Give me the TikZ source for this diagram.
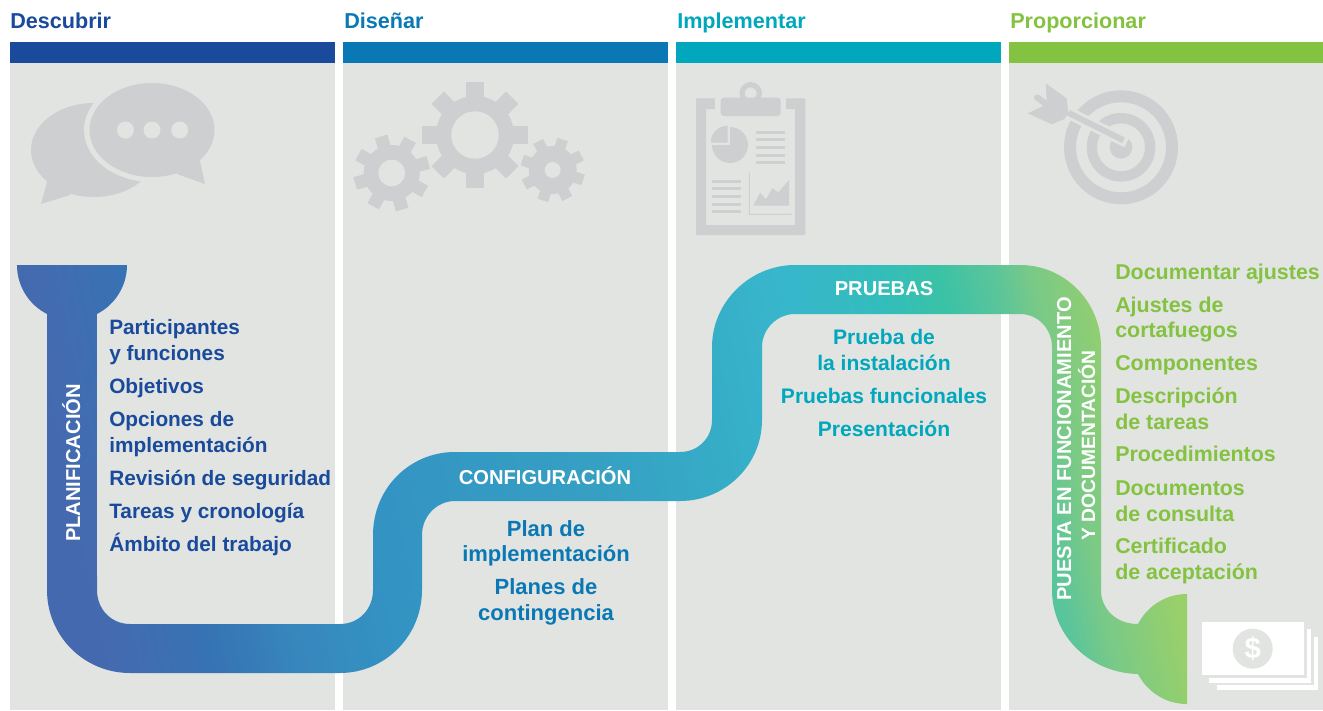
\documentclass[tikz,border=0pt]{standalone}
\usepackage{fontspec}
\setmainfont{Liberation Sans}
\definecolor{panel}{HTML}{E1E4E1}
\definecolor{icon}{HTML}{CDCFD1}
\definecolor{cA}{HTML}{1A4A9C}
\definecolor{cB}{HTML}{0A78B5}
\definecolor{cC}{HTML}{00A7BD}
\definecolor{cD}{HTML}{84C241}
\definecolor{ra}{HTML}{4569AF}
\definecolor{rb}{HTML}{426CB1}
\definecolor{rc}{HTML}{3673B4}
\definecolor{rd}{HTML}{3787BD}
\definecolor{re}{HTML}{3393C3}
\definecolor{rf}{HTML}{36A0C3}
\definecolor{rg}{HTML}{36AEC8}
\definecolor{rh}{HTML}{38B6CC}
\definecolor{ri}{HTML}{33BDBB}
\definecolor{rj}{HTML}{3AC2A6}
\definecolor{rk}{HTML}{5DC599}
\definecolor{rl}{HTML}{78C988}
\definecolor{rm}{HTML}{9AD069}
\pgfdeclarehorizontalshading{ribbon}{100bp}{
 color(0bp)=(ra);
 color(26.9bp)=(ra);
 color(28.3bp)=(rb);
 color(31.7bp)=(rc);
 color(35.7bp)=(rd);
 color(40bp)=(re);
 color(50.4bp)=(rf);
 color(56.5bp)=(rg);
 color(60bp)=(rh);
 color(64.4bp)=(ri);
 color(67bp)=(rj);
 color(69.6bp)=(rk);
 color(71bp)=(rl);
 color(74.5bp)=(rm);
 color(100bp)=(rm)}
\newcommand{\geargrey}[7]{% x y outer body hole toothwidth rot
 \begin{scope}[shift={(#1,#2)}]
  \foreach \a in {0,45,...,315}
   \fill[icon,rotate=\a+#7] (-#6/2,0) rectangle (#6/2,-#3);
  \fill[icon] (0,0) circle[radius=#4];
  \fill[panel] (0,0) circle[radius=#5];
 \end{scope}}
\tikzset{
 head/.style={anchor=base west,font=\fontsize{16.2}{18}\selectfont\bfseries,inner sep=0pt},
 item/.style={inner sep=0pt,yshift=-0.4pt},
 lft/.style={item,anchor=base west},
 ctr/.style={item,anchor=base},
 fA/.style={font=\fontsize{15.6}{18}\selectfont\bfseries,cA},
 fB/.style={font=\fontsize{16.5}{18}\selectfont\bfseries,cB},
 fC/.style={font=\fontsize{15.8}{18}\selectfont\bfseries,cC},
 fD/.style={font=\fontsize{16.05}{18}\selectfont\bfseries,cD},
 band/.style={font=\fontsize{15.1}{16}\selectfont\bfseries,inner sep=0pt,white,anchor=base},
 vband/.style={band,rotate=90},
}
\begin{document}
\begin{tikzpicture}[x=0.75pt,y=-0.75pt]
\useasboundingbox (0,0) rectangle (1323,710);
\fill[white] (0,0) rectangle (1323,710);
% panels and bars
\fill[panel] (10,63) rectangle (335,710);
\fill[panel] (343,63) rectangle (668,710);
\fill[panel] (676,63) rectangle (1001,710);
\fill[panel] (1009,63) rectangle (1323,710);
\fill[cA] (10,42) rectangle (335,63);
\fill[cB] (343,42) rectangle (668,63);
\fill[cC] (676,42) rectangle (1001,63);
\fill[cD] (1009,42) rectangle (1323,63);
% headings
\node[head,cA] (h1) at (10,29) {Descubrir};
\node[head,cB] (h2) at (344,29) {Diseñar};
\node[head,cC] (h3) at (677,29) {Implementar};
\node[head,cD] (h4) at (1010,29) {Proporcionar};
% speech bubbles
\fill[icon] (94,150) ellipse[x radius=63,y radius=47];
\fill[icon] (47,182) -- (41,204) -- (70,195) -- (60,170) -- cycle;
\fill[panel] (152,130) ellipse[x radius=68,y radius=52];
\fill[icon] (152,130) ellipse[x radius=62.5,y radius=47];
\fill[icon] (200,161) -- (205,184) -- (177,174) -- (190,150) -- cycle;
\foreach \x in {125.5,152,179.7} \fill[panel] (\x,130) circle[radius=8.5];
% gears
\geargrey{475}{135}{52.7}{39}{23.7}{17.5}{0}
\geargrey{391.7}{173}{38}{28}{13.3}{13}{16}
\geargrey{552.7}{170}{32}{24}{8}{11}{27}
% clipboard
\fill[icon,even odd rule] (696,98.3) rectangle (805.3,235) (706,109) rectangle (795,225);
\fill[panel] (715.3,95) rectangle (786,112);
\fill[icon,even odd rule] (750.7,93.3) circle[radius=11.3] (750.7,93.3) circle[radius=6];
\fill[icon,rounded corners=2.5pt] (720.7,97.7) rectangle (780.7,116);
\fill[icon] (730,145) -- (730,127) arc[start angle=-90,end angle=180,radius=18] -- cycle;
\fill[panel] (712,126) rectangle (730,145);
\fill[icon] (727.7,142.7) -- (710.7,142.7) arc[start angle=180,end angle=270,radius=17] -- cycle;
\foreach \y in {132.3,139.7,147.3,155.3,162.7} \fill[icon] (756,\y-1.35) rectangle (785,\y+1.35);
\foreach \y in {181.3,188.3,196.3,204.7,211.3} \fill[icon] (712,\y-1.35) rectangle (741,\y+1.35);
\fill[icon] (748.8,172.7) rectangle (749.8,214.8) (748.8,213.8) rectangle (791.7,214.8);
\fill[icon] (753.3,205.7) -- (760,192.7) -- (766,199.3) -- (772.3,188.3) -- (778.3,192.3) -- (789,180) -- (789,205.7) -- cycle;
% target
\fill[icon,even odd rule] (1121,147.3) circle[radius=57] (1121,147.3) circle[radius=45];
\fill[icon,even odd rule] (1121,147.3) circle[radius=34.3] (1121,147.3) circle[radius=24];
\fill[icon] (1121,147.3) circle[radius=11.3];
\draw[panel,line width=9pt] (1068.3,112.7) -- (1127,142);
\draw[icon,line width=4.5pt] (1068.3,112.7) -- (1123.5,140.3);
\fill[icon] (1045.7,83.3) -- (1066.7,98.3) -- (1068.3,113.3) -- (1064.3,119) -- (1051.7,124.3) -- (1027.7,113.3) -- (1043.3,106) -- (1035.5,100) -- (1039,95) -- (1046.7,100.7) -- cycle;
\fill[icon] (1037.2,97.8) circle[radius=3.2];
% money
\fill[white] (1216.7,636.7) rectangle (1318.3,690);
\fill[panel] (1206.6,626.6) rectangle (1313.7,685.4);
\fill[white] (1209.3,629.3) rectangle (1311,682.7);
\fill[panel] (1199.3,619.3) rectangle (1306.7,678);
\fill[white] (1202,622) rectangle (1304,675.3);
\fill[panel] (1252.7,648.7) circle[radius=20];
\node[font=\fontsize{22}{24}\selectfont\bfseries,white,inner sep=0pt] (dollar) at (1252.7,648.7) {\$};
% ribbon: tilted gradient inside the ribbon outline
\begin{scope}
\clip
 (17,265) -- (127,265) arc[start angle=0,end angle=63,radius=55]
 -- (97,590) .. controls (97,609) and (111,624) .. (130,624)
 -- (340,624) .. controls (359,624) and (373,609) .. (373,590)
 -- (373,535) .. controls (373,489) and (409,452) .. (455,452)
 -- (680,452) .. controls (698,452) and (712,438) .. (712,420)
 -- (712,347) .. controls (712,302) and (750,265) .. (795,265)
 -- (1020,265) .. controls (1065,265) and (1101,302) .. (1101,347)
 -- (1101,590) .. controls (1101,609) and (1116,624) .. (1138,624)
 arc[start angle=207,end angle=270,radius=55]
 -- (1187,704) arc[start angle=90,end angle=153,radius=55]
 .. controls (1090,673) and (1052,636) .. (1052,590)
 -- (1052,347) .. controls (1052,329) and (1038,314) .. (1020,314)
 -- (795,314) .. controls (777,314) and (762,329) .. (762,347)
 -- (762,420) .. controls (762,465) and (725,501) .. (680,501)
 -- (455,501) .. controls (437,501) and (422,516) .. (422,535)
 -- (422,590) .. controls (422,636) and (385,673) .. (340,673)
 -- (130,673) .. controls (84,673) and (47,636) .. (47,590)
 -- (47,314) arc[start angle=117,end angle=180,radius=55] -- cycle;
\begin{scope}[transform canvas={rotate around={12:(602,480)}}]
\path[shading=ribbon] (32,-20) rectangle (1152,980);
\end{scope}
\end{scope}
% band labels
\node[vband] (b1) at (80,463) {PLANIFICACIÓN};
\node[band] (b2) at (545,484) {CONFIGURACIÓN};
\node[band] (b3) at (884,295) {PRUEBAS};
\node[vband] (b4a) at (1071,449) {PUESTA EN FUNCIONAMIENTO};
\node[vband,font=\fontsize{14.45}{16}\selectfont\bfseries] (b4b) at (1095,445.5) {Y DOCUMENTACIÓN};
% column 1
\node[lft,fA] (a1) at (109,334) {Participantes};
\node[lft,fA] (a2) at (109,360) {y funciones};
\node[lft,fA] (a3) at (109,393) {Objetivos};
\node[lft,fA] (a4) at (109,426) {Opciones de};
\node[lft,fA] (a5) at (109,452) {implementación};
\node[lft,fA] (a6) at (109,485) {Revisión de seguridad};
\node[lft,fA] (a7) at (109,518) {Tareas y cronología};
\node[lft,fA] (a8) at (109,551) {Ámbito del trabajo};
% column 2
\node[ctr,fB] (c1) at (546,535.5) {Plan de};
\node[ctr,fB] (c2) at (546,560.5) {implementación};
\node[ctr,fB] (c3) at (546,593.5) {Planes de};
\node[ctr,fB] (c4) at (546,619.5) {contingencia};
% column 3
\node[ctr,fC] (d1) at (884,344) {Prueba de};
\node[ctr,fC] (d2) at (884,370) {la instalación};
\node[ctr,fC] (d3) at (884,403) {Pruebas funcionales};
\node[ctr,fC] (d4) at (884,436) {Presentación};
% column 4
\node[lft,fD] (e1) at (1115,279) {Documentar ajustes};
\node[lft,fD] (e2) at (1115,312) {Ajustes de};
\node[lft,fD] (e3) at (1115,337) {cortafuegos};
\node[lft,fD] (e4) at (1115,370) {Componentes};
\node[lft,fD] (e5) at (1115,403) {Descripción};
\node[lft,fD] (e6) at (1115,429) {de tareas};
\node[lft,fD] (e7) at (1115,461) {Procedimientos};
\node[lft,fD] (e8) at (1115,495) {Documentos};
\node[lft,fD] (e9) at (1115,521) {de consulta};
\node[lft,fD] (e10) at (1115,553) {Certificado};
\node[lft,fD] (e11) at (1115,579) {de aceptación};
\end{tikzpicture}
\end{document}
